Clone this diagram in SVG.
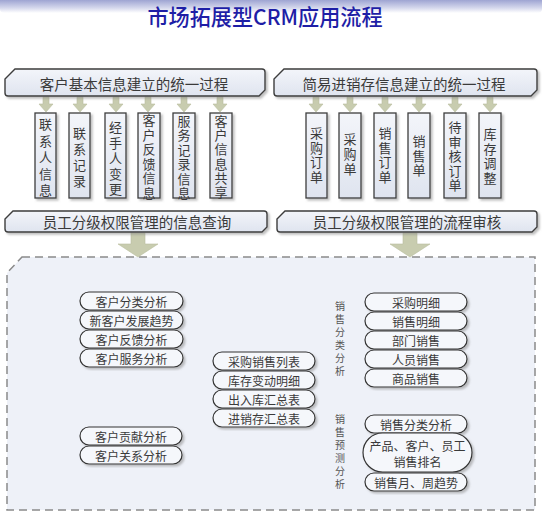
<svg xmlns="http://www.w3.org/2000/svg" width="542" height="518" viewBox="0 0 542 518">
<defs>
<linearGradient id="banner" x1="0" y1="0" x2="0" y2="1">
<stop offset="0" stop-color="#9ea4d2"/>
<stop offset="0.6" stop-color="#d4d7ec"/>
<stop offset="1" stop-color="#ffffff"/>
</linearGradient>
<linearGradient id="boxfill" x1="0" y1="0" x2="0" y2="1">
<stop offset="0" stop-color="#f3f5fa"/>
<stop offset="1" stop-color="#dfe4ef"/>
</linearGradient>
<filter id="sh" x="-20%" y="-20%" width="140%" height="140%">
<feDropShadow dx="2" dy="2" stdDeviation="1.2" flood-color="#8a8a8a" flood-opacity="0.55"/>
</filter>
<style>
.hdr{fill:url(#boxfill);stroke:#3d3d3d;stroke-width:1.4;filter:url(#sh)}
.vbox{fill:url(#boxfill);stroke:#3d3d3d;stroke-width:1.3;filter:url(#sh)}
.pill{fill:#f5f7fb;stroke:#333;stroke-width:1.2;filter:url(#sh)}
.t{font-family:"Noto Sans CJK SC","Noto Sans",sans-serif;fill:#3a3a3a;dominant-baseline:central;text-anchor:middle}
.h{font-size:14.5px}
.v{font-size:13px}
.p{font-size:12px}
.lbl{font-size:10px;fill:#555}
.arr{fill:#c8ccaf;stroke:#b9bd9e;stroke-width:0.6}
.title{font-family:"Noto Sans CJK SC","Noto Sans",sans-serif;font-size:22px;fill:#1e1ea6;text-anchor:middle;font-weight:500}
</style>
</defs>
<rect width="542" height="518" fill="#ffffff"/>
<path d="M0 0 H542 V9 Q542 13 537 13 H5 Q0 13 0 9 Z" fill="url(#banner)"/>
<text class="title" x="265" y="25" textLength="235" lengthAdjust="spacingAndGlyphs">市场拓展型CRM应用流程</text>

<g id="container">
<path d="M22 257 H535 V510 H7 V273 Z" fill="#eef1f8" stroke="#8a8a8a" stroke-width="1.5" stroke-dasharray="8 5"/>
</g>

<g id="connectors">
<polygon class="arr" points="43,97 49,97 49,104 53,104 46,112 39,104 43,104"/>
<polygon class="arr" points="77,97 83,97 83,104 87,104 80,112 73,104 77,104"/>
<polygon class="arr" points="113,97 119,97 119,104 123,104 116,112 109,104 113,104"/>
<polygon class="arr" points="145,97 151,97 151,104 155,104 148,112 141,104 145,104"/>
<polygon class="arr" points="181,97 187,97 187,104 191,104 184,112 177,104 181,104"/>
<polygon class="arr" points="217,97 223,97 223,104 227,104 220,112 213,104 217,104"/>
<polygon class="arr" points="313,97 319,97 319,104 323,104 316,112 309,104 313,104"/>
<polygon class="arr" points="347,97 353,97 353,104 357,104 350,112 343,104 347,104"/>
<polygon class="arr" points="382,97 388,97 388,104 392,104 385,112 378,104 382,104"/>
<polygon class="arr" points="416,97 422,97 422,104 426,104 419,112 412,104 416,104"/>
<polygon class="arr" points="452,97 458,97 458,104 462,104 455,112 448,104 452,104"/>
<polygon class="arr" points="487,97 493,97 493,104 497,104 490,112 483,104 487,104"/>
<polygon class="arr" points="131,233 145,233 145,244 158,244 138,257 118,244 131,244"/>
<polygon class="arr" points="403,233 417,233 417,244 430,244 410,257 390,244 403,244"/>
</g>

<g id="hdr-left">
<path class="hdr" d="M15 69 H262 Q265 69 265 72 V90 L259 96 H8 Q5 96 5 93 V79 Z"/>
<text class="t h" x="134" y="83">客户基本信息建立的统一过程</text>
</g>
<g id="hdr-right">
<path class="hdr" d="M284 69 H534 Q537 69 537 72 V90 L531 96 H277 Q274 96 274 93 V79 Z"/>
<text class="t h" x="404" y="83">简易进销存信息建立的统一过程</text>
</g>

<g id="v-lianxiren"><rect class="vbox" x="35" y="113" width="21" height="85"/>
<text class="t v"><tspan x="45.5" y="123">联</tspan><tspan x="45.5" y="139.5">系</tspan><tspan x="45.5" y="156">人</tspan><tspan x="45.5" y="172.5">信</tspan><tspan x="45.5" y="189">息</tspan></text></g>
<g id="v-lianxijilu"><rect class="vbox" x="69" y="113" width="21" height="85"/>
<text class="t v"><tspan x="79.5" y="132">联</tspan><tspan x="79.5" y="148">系</tspan><tspan x="79.5" y="164">记</tspan><tspan x="79.5" y="180">录</tspan></text></g>
<g id="v-jingshouren"><rect class="vbox" x="105" y="113" width="21" height="85"/>
<text class="t v"><tspan x="115.5" y="126">经</tspan><tspan x="115.5" y="141.5">手</tspan><tspan x="115.5" y="157">人</tspan><tspan x="115.5" y="172.5">变</tspan><tspan x="115.5" y="188">更</tspan></text></g>
<g id="v-fankui"><rect class="vbox" x="138" y="113" width="22" height="85"/>
<text class="t v"><tspan x="149" y="119">客</tspan><tspan x="149" y="133.6">户</tspan><tspan x="149" y="148.2">反</tspan><tspan x="149" y="162.8">馈</tspan><tspan x="149" y="177.4">信</tspan><tspan x="149" y="192">息</tspan></text></g>
<g id="v-fuwu"><rect class="vbox" x="173" y="113" width="22" height="85"/>
<text class="t v"><tspan x="184" y="120">服</tspan><tspan x="184" y="134.4">务</tspan><tspan x="184" y="148.8">记</tspan><tspan x="184" y="163.2">录</tspan><tspan x="184" y="177.6">信</tspan><tspan x="184" y="192">息</tspan></text></g>
<g id="v-gongxiang"><rect class="vbox" x="210" y="113" width="22" height="85"/>
<text class="t v"><tspan x="221" y="120">客</tspan><tspan x="221" y="134.2">户</tspan><tspan x="221" y="148.4">信</tspan><tspan x="221" y="162.6">息</tspan><tspan x="221" y="176.8">共</tspan><tspan x="221" y="191">享</tspan></text></g>

<g id="v-caigoudingdan"><rect class="vbox" x="306" y="113" width="21" height="85"/>
<text class="t v"><tspan x="316.5" y="132">采</tspan><tspan x="316.5" y="146.5">购</tspan><tspan x="316.5" y="161">订</tspan><tspan x="316.5" y="175.5">单</tspan></text></g>
<g id="v-caigoudan"><rect class="vbox" x="339" y="113" width="22" height="85"/>
<text class="t v"><tspan x="350" y="138">采</tspan><tspan x="350" y="153">购</tspan><tspan x="350" y="168">单</tspan></text></g>
<g id="v-xiaoshoudingdan"><rect class="vbox" x="374" y="113" width="22" height="85"/>
<text class="t v"><tspan x="385" y="132">销</tspan><tspan x="385" y="146.5">售</tspan><tspan x="385" y="161">订</tspan><tspan x="385" y="175.5">单</tspan></text></g>
<g id="v-xiaoshoudan"><rect class="vbox" x="408" y="113" width="22" height="85"/>
<text class="t v"><tspan x="419" y="140">销</tspan><tspan x="419" y="154.5">售</tspan><tspan x="419" y="169">单</tspan></text></g>
<g id="v-daishenhe"><rect class="vbox" x="444" y="113" width="22" height="85"/>
<text class="t v"><tspan x="455" y="126">待</tspan><tspan x="455" y="140.5">审</tspan><tspan x="455" y="155">核</tspan><tspan x="455" y="169.5">订</tspan><tspan x="455" y="184">单</tspan></text></g>
<g id="v-kucun"><rect class="vbox" x="479" y="113" width="22" height="85"/>
<text class="t v"><tspan x="490" y="133">库</tspan><tspan x="490" y="147.5">存</tspan><tspan x="490" y="162">调</tspan><tspan x="490" y="176.5">整</tspan></text></g>

<g id="hdr-query">
<path class="hdr" d="M13 211 H264 Q267 211 267 214 V227 L262 232 H8 Q5 232 5 229 V219 Z"/>
<text class="t h" x="137" y="221.5">员工分级权限管理的信息查询</text>
</g>
<g id="hdr-audit">
<path class="hdr" d="M285 211 H534 Q537 211 537 214 V227 L532 232 H280 Q277 232 277 229 V219 Z"/>
<text class="t h" x="407" y="221.5">员工分级权限管理的流程审核</text>
</g>

<g id="p-kehufenlei"><rect class="pill" x="80" y="292" width="103" height="18" rx="9"/><text class="t p" x="131.5" y="301">客户分类分析</text></g>
<g id="p-xinkehu"><rect class="pill" x="80" y="311" width="103" height="18" rx="9"/><text class="t p" x="131.5" y="320">新客户发展趋势</text></g>
<g id="p-fankui"><rect class="pill" x="80" y="330" width="103" height="18" rx="9"/><text class="t p" x="131.5" y="339">客户反馈分析</text></g>
<g id="p-fuwu"><rect class="pill" x="80" y="349" width="103" height="18" rx="9"/><text class="t p" x="131.5" y="358">客户服务分析</text></g>

<g id="p-gongxian"><rect class="pill" x="80" y="427" width="102" height="18" rx="9"/><text class="t p" x="131" y="436">客户贡献分析</text></g>
<g id="p-guanxi"><rect class="pill" x="80" y="446" width="102" height="18" rx="9"/><text class="t p" x="131" y="455">客户关系分析</text></g>

<g id="p-caigouxiaoshou"><rect class="pill" x="213" y="352" width="102" height="18" rx="9"/><text class="t p" x="264" y="361">采购销售列表</text></g>
<g id="p-kucunbiandong"><rect class="pill" x="213" y="371" width="102" height="18" rx="9"/><text class="t p" x="264" y="380">库存变动明细</text></g>
<g id="p-churuku"><rect class="pill" x="213" y="390" width="102" height="18" rx="9"/><text class="t p" x="264" y="399">出入库汇总表</text></g>
<g id="p-jinxiaocun"><rect class="pill" x="213" y="409" width="102" height="18" rx="9"/><text class="t p" x="264" y="418">进销存汇总表</text></g>

<g id="lbl-fenlei"><text class="t lbl"><tspan x="340" y="305">销</tspan><tspan x="340" y="318">售</tspan><tspan x="340" y="331">分</tspan><tspan x="340" y="344">类</tspan><tspan x="340" y="357">分</tspan><tspan x="340" y="370">析</tspan></text></g>

<g id="p-caigoumingxi"><rect class="pill" x="365" y="293" width="102" height="18" rx="9"/><text class="t p" x="416" y="302">采购明细</text></g>
<g id="p-xiaoshoumingxi"><rect class="pill" x="365" y="312" width="102" height="18" rx="9"/><text class="t p" x="416" y="321">销售明细</text></g>
<g id="p-bumen"><rect class="pill" x="365" y="331" width="102" height="18" rx="9"/><text class="t p" x="416" y="340">部门销售</text></g>
<g id="p-renyuan"><rect class="pill" x="365" y="350" width="102" height="18" rx="9"/><text class="t p" x="416" y="359">人员销售</text></g>
<g id="p-shangpin"><rect class="pill" x="365" y="369" width="102" height="18" rx="9"/><text class="t p" x="416" y="378">商品销售</text></g>

<g id="lbl-yuce"><text class="t lbl"><tspan x="340" y="418">销</tspan><tspan x="340" y="431">售</tspan><tspan x="340" y="444">预</tspan><tspan x="340" y="457">测</tspan><tspan x="340" y="470">分</tspan><tspan x="340" y="483">析</tspan></text></g>

<g id="p-xiaoshoufenlei"><rect class="pill" x="365" y="415" width="102" height="18" rx="9"/><text class="t p" x="416" y="424">销售分类分析</text></g>
<g id="p-paiming"><rect class="pill" x="363" y="433" width="109" height="39" rx="19.5"/><text class="t p" x="417.5" y="445">产品、客户、员工</text><text class="t p" x="417.5" y="461">销售排名</text></g>
<g id="p-qushi"><rect class="pill" x="365" y="473" width="102" height="18" rx="9"/><text class="t p" x="416" y="482">销售月、周趋势</text></g>
</svg>
